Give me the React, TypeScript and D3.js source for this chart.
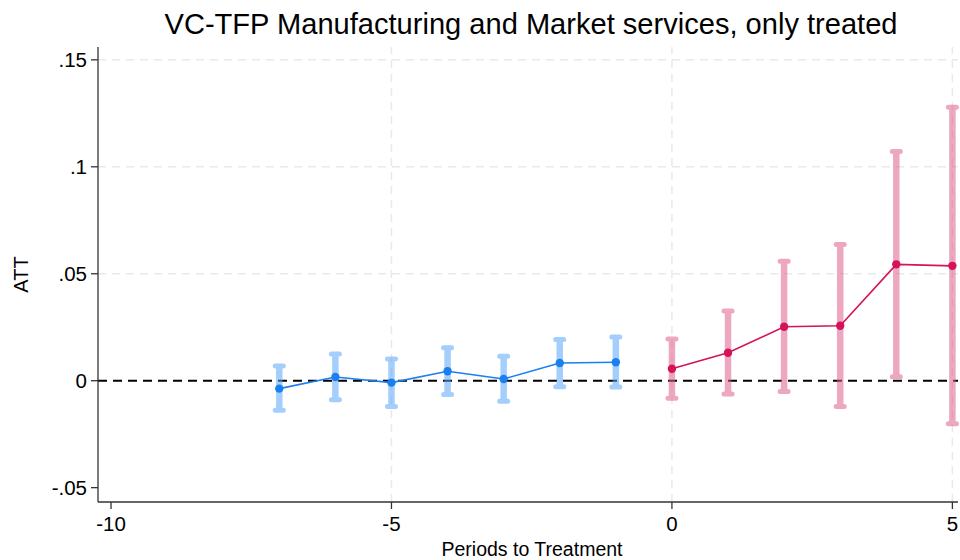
import React from "react";
import * as d3 from "d3";

// Event-study estimates: periods relative to treatment, ATT and 95% CI bounds
const prePeriods = [-7, -6, -5, -4, -3, -2, -1];
const preAtt = [-0.0037, 0.0017, -0.0009, 0.0044, 0.0008, 0.0083, 0.0086];
const preLower = [-0.0138, -0.0089, -0.012, -0.0065, -0.0096, -0.0028, -0.0029];
const preUpper = [0.0069, 0.0125, 0.0101, 0.0154, 0.0114, 0.0193, 0.0204];

const postPeriods = [0, 1, 2, 3, 4, 5];
const postAtt = [0.0056, 0.0131, 0.0252, 0.0257, 0.0544, 0.0537];
const postLower = [-0.0082, -0.0062, -0.0051, -0.0121, 0.0019, -0.0201];
const postUpper = [0.0195, 0.0326, 0.0559, 0.0637, 0.1072, 0.1278];

const xTicks = [-10, -5, 0, 5];
const xTickLabels = ["-10", "-5", "0", "5"];
const yTicks = [-0.05, 0, 0.05, 0.1, 0.15];
const yTickLabels = ["-.05", "0", ".05", ".1", ".15"];

const W = 960;
const H = 560;
const FONT = "'Liberation Sans', Arial, Helvetica, sans-serif";

const x = d3.scaleLinear().domain([-10.232, 5.1]).range([98, 958]);
const y = d3.scaleLinear().domain([-0.0567, 0.156]).range([502, 47]);

type Series = {
  periods: number[];
  att: number[];
  lower: number[];
  upper: number[];
  color: string;
  ciColor: string;
};

const series: Series[] = [
  { periods: prePeriods, att: preAtt, lower: preLower, upper: preUpper, color: "#1a7fef", ciColor: "#5aa8fb" },
  { periods: postPeriods, att: postAtt, lower: postLower, upper: postUpper, color: "#d4135a", ciColor: "#e0608e" },
];

function SeriesMarks({ s }: { s: Series }) {
  const line = d3
    .line<number>()
    .x((_, i) => x(s.periods[i]))
    .y((d) => y(d));
  return (
    <g>
      {s.periods.map((p, i) => {
        const cx = x(p);
        const y0 = y(s.lower[i]);
        const y1 = y(s.upper[i]);
        return (
          <g key={p} opacity={0.55}>
            <line x1={cx} x2={cx} y1={y0} y2={y1} stroke={s.ciColor} strokeWidth={6.5} />
            <line x1={cx - 4} x2={cx + 4} y1={y0} y2={y0} stroke={s.ciColor} strokeWidth={5} strokeLinecap="round" />
            <line x1={cx - 4} x2={cx + 4} y1={y1} y2={y1} stroke={s.ciColor} strokeWidth={5} strokeLinecap="round" />
          </g>
        );
      })}
      <path d={line(s.att) || ""} fill="none" stroke={s.color} strokeWidth={1.6} />
      {s.periods.map((p, i) => (
        <circle key={p} cx={x(p)} cy={y(s.att[i])} r={4.2} fill={s.color} />
      ))}
    </g>
  );
}

export default function App() {
  const [x0, x1] = x.range();
  const [yb, yt] = y.range();
  return (
    <svg
      width={W}
      height={H}
      style={{ position: "absolute", left: 0, top: 0, background: "#fff", fontFamily: FONT }}
    >
      <rect width={W} height={H} fill="#fff" />
      {/* Title */}
      <text
        x={531}
        y={34}
        textAnchor="middle"
        fontSize={29}
        fill="#000"
        textLength={733}
        lengthAdjust="spacingAndGlyphs"
      >
        VC-TFP Manufacturing and Market services, only treated
      </text>

      {/* Grid lines */}
      {yTicks
        .filter((t) => t !== 0 && t !== -0.05)
        .map((t) => (
          <line key={"gy" + t} x1={x0} x2={x1} y1={y(t)} y2={y(t)} stroke="#e9e9e9" strokeWidth={1.5} strokeDasharray="8,6" />
        ))}
      {xTicks
        .filter((t) => t !== -10)
        .map((t) => (
          <line key={"gx" + t} x1={x(t)} x2={x(t)} y1={yb} y2={yt} stroke="#e9e9e9" strokeWidth={1.5} strokeDasharray="8,6" />
        ))}

      {/* Reference line at zero */}
      <line x1={x0} x2={x1} y1={y(0)} y2={y(0)} stroke="#000" strokeWidth={2} strokeDasharray="9,6" />

      {series.map((s, i) => (
        <SeriesMarks key={i} s={s} />
      ))}

      {/* Axes */}
      <line x1={x0} x2={x0} y1={yt} y2={yb} stroke="#333" strokeWidth={1.3} />
      <line x1={x0} x2={x1} y1={yb} y2={yb} stroke="#333" strokeWidth={1.3} />
      {yTicks.map((t, i) => (
        <g key={"yt" + t}>
          <line x1={x0 - 7} x2={x0} y1={y(t)} y2={y(t)} stroke="#333" strokeWidth={1.3} />
          <text x={x0 - 11} y={y(t)} dy="0.36em" textAnchor="end" fontSize={20.5} fill="#000">
            {yTickLabels[i]}
          </text>
        </g>
      ))}
      {xTicks.map((t, i) => (
        <g key={"xt" + t}>
          <line x1={x(t)} x2={x(t)} y1={yb} y2={yb + 7} stroke="#333" strokeWidth={1.3} />
          <text x={x(t)} y={yb + 29} textAnchor="middle" fontSize={20.5} fill="#000">
            {xTickLabels[i]}
          </text>
        </g>
      ))}

      {/* Axis titles */}
      <text x={532} y={556} textAnchor="middle" fontSize={19.5} fill="#000">
        Periods to Treatment
      </text>
      <text transform={`translate(28,${(yt + yb) / 2}) rotate(-90)`} textAnchor="middle" fontSize={20} fill="#000">
        ATT
      </text>
    </svg>
  );
}
